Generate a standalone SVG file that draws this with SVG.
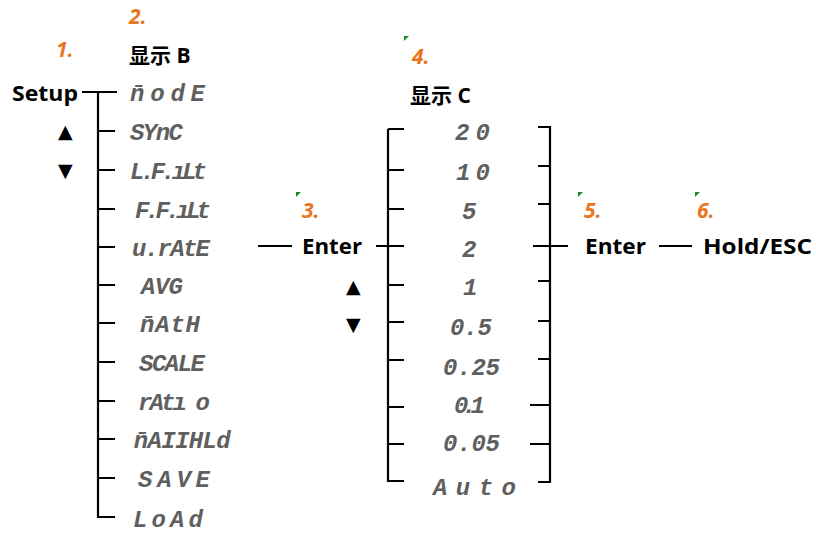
<svg xmlns="http://www.w3.org/2000/svg" width="816" height="535" viewBox="0 0 816 535">
<defs>
<style>
.lbl{font-family:"Open Sans","DejaVu Sans",sans-serif;font-weight:bold;font-size:21px;fill:#000}
.cjk{font-family:"Open Sans","Noto Sans CJK SC",sans-serif;font-weight:bold;font-size:21px;fill:#000}
.num{font-family:"Open Sans","DejaVu Sans",sans-serif;font-weight:bold;font-style:italic;font-size:21px;fill:#E8761E}
.seg{font-family:"Liberation Mono","DejaVu Sans Mono",monospace;font-style:italic;font-weight:bold;font-size:24px;fill:#5f5f5f}
.tri{font-family:"DejaVu Sans",sans-serif;font-size:19px;fill:#000}
.ln{stroke:#000;stroke-width:2.2;fill:none}
.mk{fill:#1E8B1E}
</style>
</defs>
<g id="connectors">
<path class="ln" d="M82,92 H117 M98,92 V517 H115 M98,131 H115 M98,170 H115 M98,209 H115 M98,247 H115 M98,285 H115 M98,323 H115 M98,362 H115 M98,401 H115 M98,439 H115 M98,478 H115"/>
<path class="ln" d="M258,246 H292"/>
<path class="ln" d="M376,246 H404 M388,129 H404 M388,129 V481 H404 M388,170 H404 M388,209 H404 M388,285 H404 M388,322 H404 M388,360 H404 M388,407 H404 M388,444 H404"/>
<path class="ln" d="M538,127 H550 V482 H538 M538,166 H550 M538,204 H550 M533,246 H568 M538,281 H550 M538,321 H550 M538,359 H550 M530,405 H550 M530,444 H550"/>
<path class="ln" d="M659,246 H692"/>
</g>
<g id="markers">
<polygon class="mk" points="404,36 409,36 404,41"/>
<polygon class="mk" points="296,192 301,192 296,197"/>
<polygon class="mk" points="578,192 583,192 578,197"/>
<polygon class="mk" points="695,192 700,192 695,197"/>
</g>
<g id="step-numbers">
<text class="num" x="56" y="57">1.</text>
<text class="num" x="129" y="24">2.</text>
<text class="num" x="302" y="218">3.</text>
<text class="num" x="412" y="64">4.</text>
<text class="num" x="584" y="218">5.</text>
<text class="num" x="697" y="218">6.</text>
</g>
<g id="setup">
<text class="lbl" x="12" y="101" textLength="66" lengthAdjust="spacingAndGlyphs">Setup</text>
<text class="tri" x="58" y="138">▲</text>
<text class="tri" x="58" y="177">▼</text>
</g>
<g id="display-b">
<text class="cjk" x="129" y="63">显示 B</text>
<text class="seg" x="130" y="101" textLength="75" lengthAdjust="spacing">n̄odE</text>
<text class="seg" x="130" y="140" textLength="53" lengthAdjust="spacing">SYnC</text>
<text class="seg" x="130" y="179" textLength="77" lengthAdjust="spacing">L.F.ıLt</text>
<text class="seg" x="135" y="218" textLength="76" lengthAdjust="spacing">F.F.ıLt</text>
<text class="seg" x="132" y="256" textLength="78" lengthAdjust="spacing">u.rAtE</text>
<text class="seg" x="141" y="294" textLength="42" lengthAdjust="spacing">AVG</text>
<text class="seg" x="140" y="332" textLength="60" lengthAdjust="spacing">n̄AtH</text>
<text class="seg" x="139" y="371" textLength="66" lengthAdjust="spacing">SCALE</text>
<text class="seg" x="138" y="410" textLength="72" lengthAdjust="spacing">rAtı o</text>
<text class="seg" x="133" y="448" textLength="97" lengthAdjust="spacing">n̄AIIHLd</text>
<text class="seg" x="138" y="487" textLength="72" lengthAdjust="spacing">SAVE</text>
<text class="seg" x="133" y="527" textLength="70" lengthAdjust="spacing">LoAd</text>
</g>
<g id="enter-1">
<text class="lbl" x="302" y="254" textLength="60" lengthAdjust="spacingAndGlyphs">Enter</text>
<text class="tri" x="346" y="293">▲</text>
<text class="tri" x="346" y="331">▼</text>
</g>
<g id="display-c">
<text class="cjk" x="410" y="103">显示 C</text>
<text class="seg" x="455" y="140" textLength="35" lengthAdjust="spacing">20</text>
<text class="seg" x="456" y="180" textLength="34" lengthAdjust="spacing">10</text>
<text class="seg" x="462" y="219">5</text>
<text class="seg" x="462" y="257">2</text>
<text class="seg" x="463" y="295">1</text>
<text class="seg" x="450" y="335" textLength="42" lengthAdjust="spacing">0.5</text>
<text class="seg" x="443" y="375" textLength="57" lengthAdjust="spacing">0.25</text>
<text class="seg" x="454" y="413" textLength="31" lengthAdjust="spacing">0.1</text>
<text class="seg" x="443" y="451" textLength="57" lengthAdjust="spacing">0.05</text>
<text class="seg" x="433" y="495" textLength="83" lengthAdjust="spacing">Auto</text>
</g>
<g id="enter-2">
<text class="lbl" x="585" y="254" textLength="61" lengthAdjust="spacingAndGlyphs">Enter</text>
</g>
<g id="hold-esc">
<text class="lbl" x="703" y="254" textLength="109" lengthAdjust="spacingAndGlyphs">Hold/ESC</text>
</g>
</svg>
